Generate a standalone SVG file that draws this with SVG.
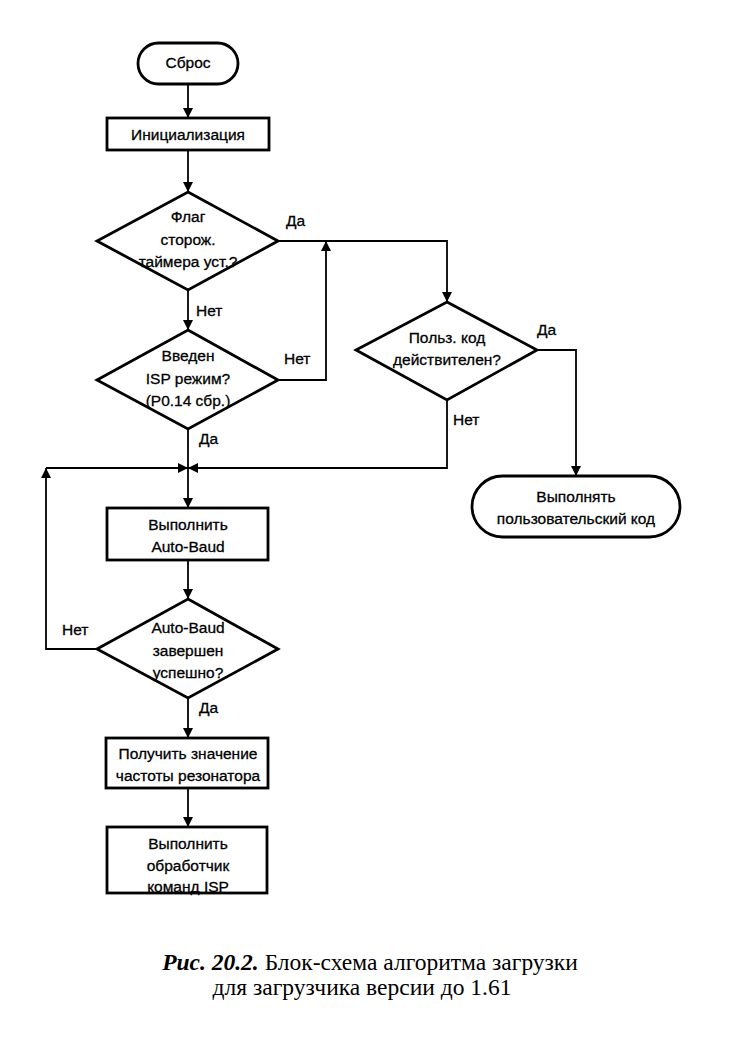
<svg xmlns="http://www.w3.org/2000/svg" width="730" height="1040" viewBox="0 0 730 1040">
<defs>
<marker id="ah" viewBox="0 0 10 10" refX="10" refY="5" markerWidth="10" markerHeight="10" markerUnits="userSpaceOnUse" orient="auto">
<path d="M0,0 L10,5 L0,10 Z" fill="#000"/>
</marker>
</defs>
<style>
.s{fill:#fff;stroke:#000;stroke-width:2.8}
.t{font-family:"Liberation Sans",Arial,sans-serif;font-size:15.5px;fill:#000;stroke:#000;stroke-width:0.3;text-anchor:middle}
.l{font-family:"Liberation Sans",Arial,sans-serif;font-size:15.5px;fill:#000;stroke:#000;stroke-width:0.3}
.c{fill:none;stroke:#000;stroke-width:1.8}
.cap{font-family:"Liberation Serif","Times New Roman",serif;font-size:23.5px;fill:#000;text-anchor:middle}
</style>
<rect width="730" height="1040" fill="#fff"/>
<g id="connectors">
<line class="c" x1="188" y1="84" x2="188" y2="118" marker-end="url(#ah)"/>
<line class="c" x1="188" y1="150" x2="188" y2="192" marker-end="url(#ah)"/>
<line class="c" x1="188" y1="290" x2="188" y2="330" marker-end="url(#ah)"/>
<polyline class="c" points="278,241 447,241 447,302" marker-end="url(#ah)"/>
<polyline class="c" points="278,380 326,380 326,241" marker-end="url(#ah)"/>
<line class="c" x1="188" y1="429" x2="188" y2="508" marker-end="url(#ah)"/>
<polyline class="c" points="447,400 447,468 188,468" marker-end="url(#ah)"/>
<polyline class="c" points="97,649 46,649 46,468" marker-end="url(#ah)"/>
<line class="c" x1="46" y1="468" x2="188" y2="468" marker-end="url(#ah)"/>
<polyline class="c" points="537,350 576,350 576,476" marker-end="url(#ah)"/>
<line class="c" x1="188" y1="560" x2="188" y2="599" marker-end="url(#ah)"/>
<line class="c" x1="188" y1="698" x2="188" y2="738" marker-end="url(#ah)"/>
<line class="c" x1="188" y1="788" x2="188" y2="827" marker-end="url(#ah)"/>
<text class="l" x="286" y="226">Да</text>
<text class="l" x="196" y="316">Нет</text>
<text class="l" x="284" y="364">Нет</text>
<text class="l" x="199" y="444">Да</text>
<text class="l" x="537" y="335">Да</text>
<text class="l" x="453" y="425">Нет</text>
<text class="l" x="62" y="635">Нет</text>
<text class="l" x="199" y="713">Да</text>
</g>
<g id="reset">
<rect class="s" x="138" y="43" width="100" height="41" rx="20.5"/>
<text class="t" x="188" y="68">Сброс</text>
</g>
<g id="init">
<rect class="s" x="107" y="118" width="162" height="32"/>
<text class="t" x="188" y="140">Инициализация</text>
</g>
<g id="wdt">
<polygon class="s" points="188,192 278,241 188,290 97,241"/>
<text class="t" x="188" y="222">Флаг</text>
<text class="t" x="188" y="245">сторож.</text>
<text class="t" x="188" y="267">таймера уст.?</text>
</g>
<g id="isp">
<polygon class="s" points="188,330 278,380 188,429 97,380"/>
<text class="t" x="188" y="361">Введен</text>
<text class="t" x="188" y="384">ISP режим?</text>
<text class="t" x="188" y="406">(P0.14 сбр.)</text>
</g>
<g id="valid">
<polygon class="s" points="447,302 537,350 447,400 356,350"/>
<text class="t" x="447" y="343">Польз. код</text>
<text class="t" x="447" y="365">действителен?</text>
</g>
<g id="runuser">
<rect class="s" x="472" y="476" width="208" height="61" rx="30.5"/>
<text class="t" x="576" y="502">Выполнять</text>
<text class="t" x="576" y="524">пользовательский код</text>
</g>
<g id="autobaud">
<rect class="s" x="107" y="508" width="161" height="52"/>
<text class="t" x="188" y="530">Выполнить</text>
<text class="t" x="188" y="552">Auto-Baud</text>
</g>
<g id="abok">
<polygon class="s" points="188,599 278,649 188,698 97,649"/>
<text class="t" x="188" y="633">Auto-Baud</text>
<text class="t" x="188" y="656">завершен</text>
<text class="t" x="188" y="678">успешно?</text>
</g>
<g id="freq">
<rect class="s" x="106" y="738" width="162" height="50"/>
<text class="t" x="188" y="759">Получить значение</text>
<text class="t" x="188" y="781">частоты резонатора</text>
</g>
<g id="handler">
<rect class="s" x="107" y="827" width="160" height="66"/>
<text class="t" x="188" y="849">Выполнить</text>
<text class="t" x="188" y="871">обработчик</text>
<text class="t" x="188" y="892">команд ISP</text>
</g>
<g id="caption">
<text class="cap" x="370" y="970"><tspan font-weight="bold" font-style="italic">Рис. 20.2.</tspan> Блок-схема алгоритма загрузки</text>
<text class="cap" x="362" y="995">для загрузчика версии до 1.61</text>
</g>
</svg>
